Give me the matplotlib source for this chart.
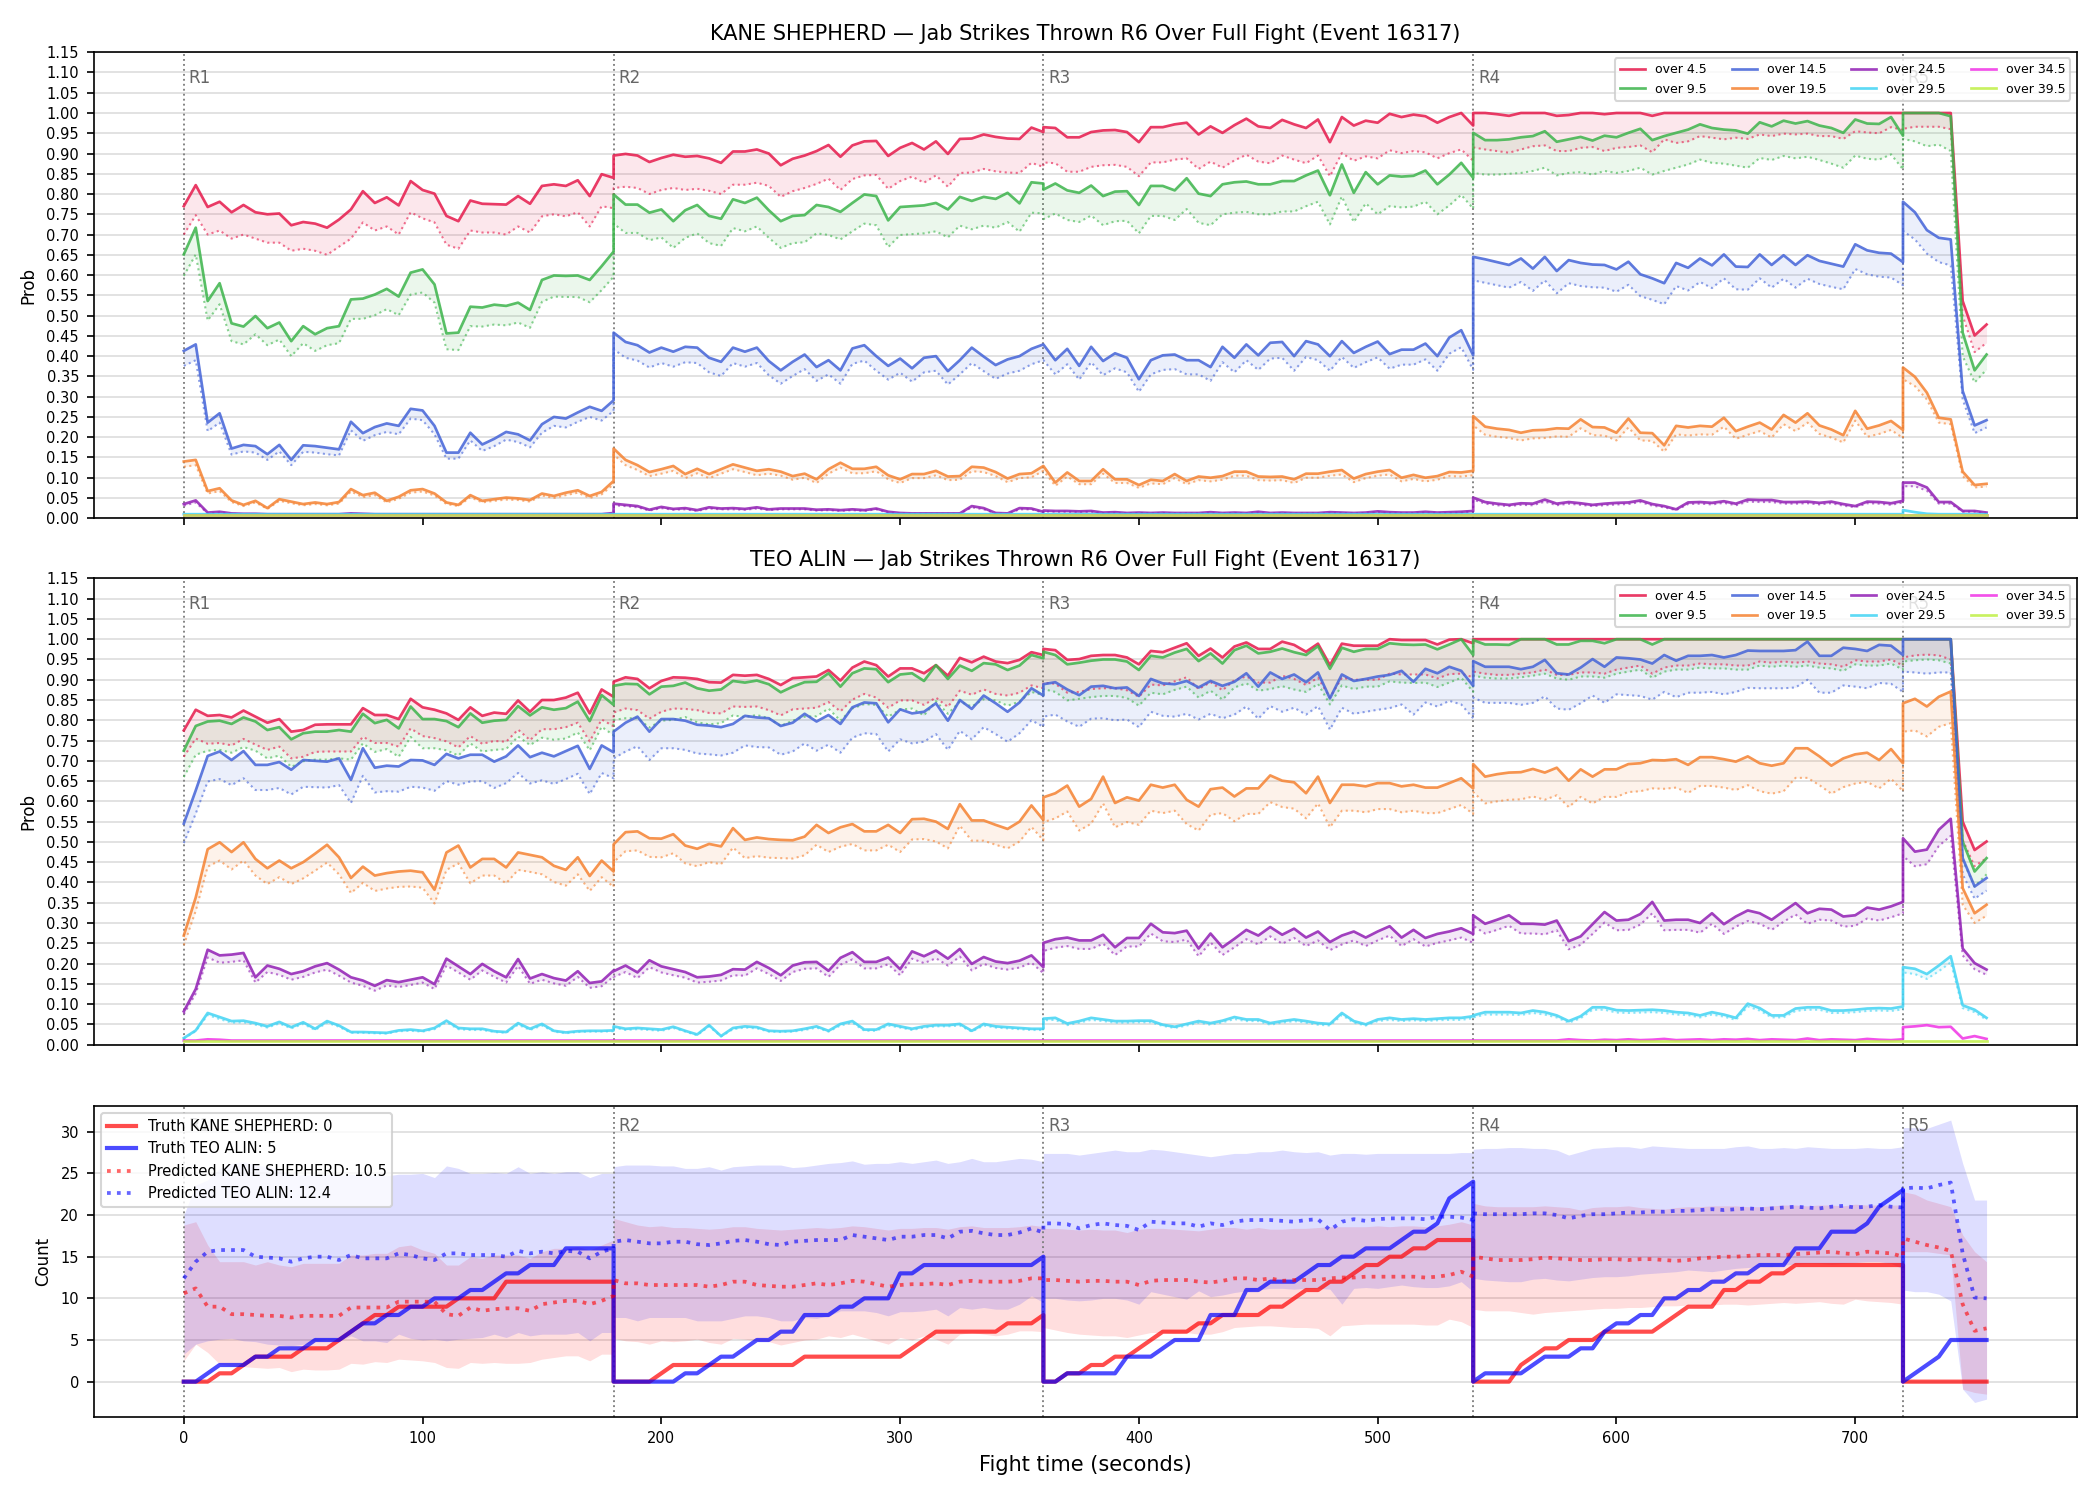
import numpy as np
import matplotlib.pyplot as plt

# time grid: 5 s samples, each round listed start..end (so round breaks show as vertical jumps)
round_starts = [0, 180, 360, 540, 720]
round_ends = [180, 360, 540, 720, 755]
t = np.concatenate([np.arange(s, e + 1, 5) for s, e in zip(round_starts, round_ends)])

labels = ["over 4.5", "over 9.5", "over 14.5", "over 19.5",
          "over 24.5", "over 29.5", "over 34.5", "over 39.5"]
line_colors = ['#e6194b', '#3cb44b', '#4363d8', '#f58231',
               '#911eb4', '#42d4f4', '#f032e6', '#bfef45']

# ---------------- KANE SHEPHERD (top panel) ----------------
kane_o45 = ([0.770,0.822,0.768,0.781,0.755,0.773,0.755,0.750,0.752,0.723,0.731,0.727,0.717,0.737,0.762,0.807,0.778,0.792,0.772,0.832,0.810,0.801,0.746,0.733,0.784,0.776,0.775,0.774,0.795,0.776,0.820,0.824,0.820,0.834,0.795,0.849,0.840]
          + [0.895,0.899,0.895,0.879,0.889,0.897,0.892,0.894,0.888,0.877,0.905,0.905,0.910,0.900,0.871,0.887,0.895,0.906,0.921,0.892,0.920,0.930,0.931,0.894,0.914,0.926,0.910,0.930,0.899,0.936,0.937,0.947,0.941,0.937,0.936,0.964,0.953]
          + [0.965,0.963,0.940,0.940,0.953,0.957,0.958,0.953,0.928,0.965,0.965,0.972,0.976,0.947,0.967,0.951,0.970,0.986,0.967,0.963,0.983,0.972,0.963,0.984,0.928,0.990,0.969,0.981,0.976,0.998,0.990,0.996,0.992,0.976,0.990,1.0,0.969]
          + [1.0,1.0,0.997,0.993,1.0,1.0,1.0,0.993,0.995,1.0,1.0,0.997,1.0,1.0,1.0,0.993] + [1.0] * 21
          + [1.0,1.0,1.0,1.0,1.0,0.536,0.451,0.478])
kane_o45_lo = ([0.700,0.748,0.700,0.710,0.690,0.700,0.690,0.680,0.680,0.660,0.665,0.660,0.650,0.670,0.690,0.730,0.710,0.720,0.700,0.755,0.740,0.730,0.675,0.665,0.710,0.705,0.705,0.700,0.720,0.705,0.745,0.750,0.745,0.755,0.720,0.770,0.765]
             + [0.815,0.818,0.815,0.800,0.810,0.815,0.810,0.813,0.808,0.800,0.823,0.823,0.828,0.820,0.793,0.807,0.815,0.825,0.838,0.810,0.837,0.846,0.847,0.813,0.832,0.843,0.828,0.846,0.818,0.852,0.853,0.862,0.856,0.853,0.852,0.877,0.867]
             + [0.878,0.876,0.855,0.855,0.867,0.871,0.872,0.867,0.844,0.878,0.878,0.885,0.888,0.862,0.880,0.865,0.883,0.897,0.880,0.876,0.895,0.885,0.876,0.895,0.844,0.901,0.882,0.893,0.888,0.908,0.901,0.906,0.903,0.888,0.901,0.910,0.882]
             + [0.915,0.910,0.906,0.902,0.910,0.918,0.920,0.906,0.906,0.914,0.916,0.906,0.914,0.916,0.920,0.903,0.935,0.926,0.930,0.943,0.939,0.935,0.939,0.936,0.947,0.943,0.949,0.947,0.949,0.943,0.943,0.936,0.955,0.952,0.950,0.965,0.958]
             + [0.961,0.966,0.966,0.966,0.960,0.500,0.410,0.433])

kane_o95 = ([0.651,0.717,0.536,0.580,0.481,0.473,0.499,0.469,0.483,0.437,0.474,0.454,0.469,0.474,0.540,0.542,0.552,0.566,0.547,0.606,0.614,0.577,0.456,0.458,0.522,0.520,0.527,0.524,0.532,0.514,0.588,0.599,0.598,0.599,0.588,0.622,0.658]
          + [0.799,0.774,0.774,0.754,0.762,0.733,0.760,0.773,0.746,0.739,0.787,0.778,0.791,0.760,0.733,0.746,0.748,0.773,0.768,0.756,0.778,0.799,0.795,0.735,0.768,0.770,0.772,0.778,0.762,0.793,0.783,0.793,0.788,0.803,0.777,0.829,0.826]
          + [0.811,0.826,0.809,0.803,0.821,0.795,0.806,0.807,0.773,0.820,0.820,0.809,0.839,0.801,0.795,0.824,0.829,0.831,0.824,0.824,0.832,0.832,0.846,0.858,0.797,0.873,0.803,0.854,0.824,0.846,0.843,0.845,0.858,0.824,0.848,0.877,0.840]
          + [0.951,0.933,0.933,0.935,0.940,0.943,0.955,0.929,0.935,0.941,0.932,0.944,0.940,0.951,0.961,0.933,0.943,0.951,0.959,0.972,0.963,0.959,0.957,0.949,0.977,0.967,0.981,0.974,0.980,0.969,0.963,0.951,0.984,0.974,0.973,0.990,0.944]
          + [1.0,1.0,1.0,1.0,0.992,0.458,0.365,0.404])
kane_o95_lo = ([0.598,0.651,0.488,0.528,0.437,0.429,0.454,0.427,0.441,0.400,0.432,0.413,0.427,0.432,0.492,0.492,0.501,0.516,0.501,0.552,0.557,0.532,0.417,0.415,0.474,0.473,0.478,0.476,0.483,0.470,0.534,0.547,0.546,0.546,0.533,0.563,0.596]
             + [0.727,0.704,0.704,0.686,0.693,0.667,0.692,0.703,0.679,0.672,0.716,0.708,0.720,0.692,0.667,0.679,0.681,0.703,0.699,0.688,0.708,0.727,0.723,0.669,0.699,0.701,0.703,0.708,0.693,0.722,0.713,0.722,0.717,0.731,0.707,0.754,0.752]
             + [0.738,0.752,0.736,0.731,0.747,0.723,0.733,0.734,0.703,0.746,0.746,0.736,0.763,0.729,0.723,0.750,0.754,0.756,0.750,0.750,0.757,0.757,0.770,0.781,0.725,0.794,0.731,0.777,0.750,0.770,0.767,0.769,0.781,0.750,0.772,0.798,0.764]
             + [0.852,0.848,0.848,0.850,0.852,0.857,0.865,0.846,0.852,0.854,0.848,0.857,0.852,0.857,0.865,0.848,0.857,0.865,0.873,0.885,0.877,0.875,0.870,0.865,0.889,0.884,0.894,0.888,0.892,0.884,0.875,0.865,0.895,0.887,0.885,0.898,0.861]
             + [0.936,0.930,0.918,0.922,0.906,0.400,0.335,0.367])

kane_o145 = ([0.413,0.429,0.236,0.259,0.172,0.181,0.178,0.158,0.181,0.144,0.180,0.178,0.174,0.170,0.238,0.210,0.225,0.234,0.228,0.270,0.266,0.228,0.162,0.162,0.211,0.182,0.196,0.213,0.207,0.192,0.232,0.250,0.246,0.261,0.275,0.265,0.291]
           + [0.458,0.435,0.427,0.409,0.421,0.411,0.423,0.421,0.396,0.386,0.421,0.411,0.421,0.388,0.365,0.386,0.404,0.373,0.390,0.365,0.419,0.427,0.400,0.376,0.394,0.370,0.396,0.400,0.363,0.390,0.421,0.399,0.378,0.392,0.400,0.418,0.429]
           + [0.429,0.390,0.418,0.376,0.423,0.388,0.407,0.396,0.343,0.390,0.402,0.404,0.390,0.390,0.373,0.423,0.396,0.429,0.402,0.433,0.435,0.400,0.437,0.429,0.400,0.437,0.408,0.423,0.436,0.405,0.416,0.416,0.431,0.400,0.446,0.464,0.402]
           + [0.645,0.639,0.632,0.625,0.641,0.616,0.645,0.610,0.637,0.630,0.626,0.625,0.614,0.633,0.602,0.592,0.580,0.630,0.618,0.641,0.624,0.651,0.621,0.620,0.651,0.625,0.649,0.625,0.649,0.635,0.628,0.621,0.676,0.661,0.655,0.653,0.632]
           + [0.781,0.755,0.711,0.692,0.688,0.314,0.229,0.242])
kane_o145_lo = ([0.376,0.390,0.215,0.236,0.157,0.165,0.162,0.144,0.165,0.131,0.164,0.162,0.158,0.155,0.217,0.191,0.205,0.213,0.207,0.246,0.242,0.207,0.147,0.147,0.192,0.166,0.178,0.194,0.188,0.175,0.211,0.228,0.224,0.238,0.250,0.241,0.265]
              + [0.417,0.396,0.389,0.372,0.383,0.374,0.385,0.383,0.360,0.351,0.383,0.374,0.383,0.353,0.332,0.351,0.368,0.339,0.355,0.332,0.381,0.389,0.364,0.342,0.359,0.337,0.360,0.364,0.330,0.355,0.383,0.363,0.344,0.357,0.364,0.380,0.390]
              + [0.390,0.355,0.380,0.342,0.385,0.353,0.370,0.360,0.312,0.355,0.366,0.368,0.355,0.355,0.339,0.385,0.360,0.390,0.366,0.394,0.396,0.364,0.398,0.390,0.364,0.398,0.371,0.385,0.397,0.369,0.379,0.379,0.392,0.364,0.406,0.422,0.366]
              + [0.587,0.581,0.575,0.569,0.583,0.561,0.587,0.555,0.580,0.573,0.570,0.569,0.559,0.576,0.548,0.539,0.528,0.573,0.562,0.583,0.568,0.592,0.565,0.564,0.592,0.569,0.591,0.569,0.591,0.578,0.571,0.565,0.615,0.602,0.596,0.594,0.575]
              + [0.709,0.688,0.653,0.632,0.624,0.293,0.210,0.224])

kane_o195 = ([0.140,0.144,0.067,0.074,0.044,0.033,0.043,0.025,0.047,0.041,0.035,0.039,0.035,0.040,0.072,0.057,0.063,0.043,0.053,0.069,0.072,0.061,0.039,0.033,0.057,0.043,0.047,0.051,0.049,0.045,0.061,0.055,0.063,0.069,0.055,0.065,0.092]
           + [0.172,0.144,0.131,0.114,0.121,0.129,0.109,0.122,0.109,0.121,0.133,0.125,0.117,0.121,0.115,0.104,0.110,0.096,0.121,0.137,0.122,0.122,0.127,0.106,0.096,0.109,0.109,0.117,0.103,0.104,0.127,0.125,0.114,0.098,0.109,0.111,0.129]
           + [0.129,0.088,0.113,0.092,0.092,0.121,0.096,0.096,0.082,0.095,0.092,0.109,0.092,0.103,0.100,0.104,0.115,0.115,0.103,0.102,0.103,0.096,0.110,0.110,0.115,0.119,0.098,0.109,0.115,0.119,0.100,0.107,0.100,0.104,0.114,0.113,0.117]
           + [0.252,0.226,0.221,0.218,0.211,0.217,0.218,0.222,0.221,0.244,0.225,0.224,0.211,0.246,0.211,0.210,0.180,0.228,0.224,0.228,0.226,0.248,0.215,0.226,0.236,0.219,0.255,0.236,0.259,0.229,0.219,0.205,0.265,0.221,0.229,0.240,0.218]
           + [0.372,0.349,0.310,0.248,0.244,0.115,0.082,0.085])
kane_o195_lo = ([0.127,0.131,0.061,0.067,0.040,0.030,0.039,0.023,0.043,0.037,0.032,0.035,0.032,0.036,0.066,0.052,0.057,0.039,0.048,0.063,0.066,0.056,0.035,0.030,0.052,0.039,0.043,0.046,0.045,0.041,0.056,0.050,0.057,0.063,0.050,0.059,0.084]
              + [0.157,0.131,0.119,0.104,0.110,0.117,0.099,0.111,0.099,0.110,0.121,0.114,0.106,0.110,0.105,0.095,0.100,0.087,0.110,0.125,0.111,0.111,0.116,0.096,0.087,0.099,0.099,0.106,0.094,0.095,0.116,0.114,0.104,0.089,0.099,0.101,0.117]
              + [0.117,0.080,0.103,0.084,0.084,0.110,0.087,0.087,0.075,0.086,0.084,0.099,0.084,0.094,0.091,0.095,0.105,0.105,0.094,0.093,0.094,0.087,0.100,0.100,0.105,0.108,0.089,0.099,0.105,0.108,0.091,0.097,0.091,0.095,0.104,0.103,0.106]
              + [0.229,0.206,0.201,0.198,0.192,0.197,0.198,0.202,0.201,0.222,0.205,0.204,0.192,0.224,0.192,0.191,0.164,0.207,0.204,0.207,0.206,0.226,0.196,0.206,0.215,0.199,0.232,0.215,0.236,0.208,0.199,0.187,0.241,0.201,0.208,0.218,0.198]
              + [0.343,0.326,0.293,0.236,0.232,0.104,0.076,0.078])

kane_o245 = ([0.035,0.044,0.014,0.016,0.012,0.011,0.011,0.010,0.010,0.010,0.010,0.010,0.010,0.010,0.012,0.011,0.010,0.010,0.010,0.010,0.010,0.010,0.010,0.010,0.010,0.010,0.010,0.010,0.010,0.010,0.010,0.010,0.010,0.010,0.010,0.010,0.013]
           + [0.036,0.033,0.030,0.021,0.028,0.023,0.025,0.020,0.027,0.024,0.025,0.023,0.027,0.022,0.024,0.024,0.024,0.021,0.022,0.020,0.022,0.020,0.024,0.016,0.013,0.012,0.012,0.012,0.012,0.012,0.030,0.025,0.013,0.012,0.025,0.024,0.016]
           + [0.019,0.018,0.018,0.017,0.018,0.014,0.015,0.013,0.014,0.013,0.014,0.013,0.013,0.013,0.015,0.013,0.014,0.013,0.016,0.013,0.014,0.013,0.013,0.013,0.015,0.014,0.013,0.014,0.017,0.015,0.014,0.014,0.016,0.014,0.015,0.016,0.018]
           + [0.051,0.040,0.036,0.033,0.037,0.036,0.046,0.036,0.040,0.037,0.033,0.036,0.038,0.039,0.044,0.035,0.030,0.022,0.039,0.040,0.038,0.042,0.036,0.046,0.045,0.045,0.040,0.040,0.041,0.038,0.041,0.035,0.030,0.041,0.040,0.037,0.043]
           + [0.088,0.088,0.076,0.040,0.040,0.018,0.018,0.014])
kane_o245_lo = ([0.031,0.039,0.012,0.014,0.011,0.010,0.010,0.009,0.009,0.009,0.009,0.009,0.009,0.009,0.011,0.010,0.009,0.009,0.009,0.009,0.009,0.009,0.009,0.009,0.009,0.009,0.009,0.009,0.009,0.009,0.009,0.009,0.009,0.009,0.009,0.009,0.012]
              + [0.032,0.030,0.027,0.019,0.025,0.021,0.022,0.018,0.024,0.022,0.022,0.021,0.024,0.020,0.022,0.022,0.022,0.019,0.020,0.018,0.020,0.018,0.022,0.014,0.012,0.011,0.011,0.011,0.011,0.011,0.027,0.022,0.012,0.011,0.022,0.022,0.014]
              + [0.017,0.016,0.016,0.015,0.016,0.013,0.013,0.012,0.013,0.012,0.013,0.012,0.012,0.012,0.013,0.012,0.013,0.012,0.014,0.012,0.013,0.012,0.012,0.012,0.013,0.013,0.012,0.013,0.015,0.013,0.013,0.013,0.014,0.013,0.013,0.014,0.016]
              + [0.046,0.036,0.032,0.030,0.033,0.032,0.041,0.032,0.036,0.033,0.030,0.032,0.034,0.035,0.040,0.031,0.027,0.020,0.035,0.036,0.034,0.038,0.032,0.041,0.040,0.040,0.036,0.036,0.037,0.034,0.037,0.031,0.027,0.037,0.036,0.033,0.039]
              + [0.079,0.079,0.068,0.036,0.036,0.016,0.016,0.013])

kane_o295 = [0.010] * 148 + [0.020,0.015,0.011,0.010,0.010,0.010,0.010,0.010]
kane_o345 = [0.008] * 156
kane_o395 = [0.009] * 156

# ---------------- TEO ALIN (middle panel) ----------------
teo_o45 = ([0.775,0.826,0.811,0.813,0.807,0.824,0.809,0.794,0.803,0.772,0.776,0.789,0.790,0.790,0.790,0.830,0.813,0.813,0.803,0.853,0.832,0.826,0.817,0.801,0.832,0.811,0.819,0.816,0.849,0.821,0.850,0.850,0.856,0.868,0.817,0.876,0.858]
         + [0.895,0.906,0.902,0.879,0.897,0.906,0.905,0.902,0.894,0.893,0.912,0.910,0.912,0.902,0.887,0.904,0.906,0.908,0.924,0.898,0.930,0.945,0.936,0.908,0.928,0.928,0.916,0.936,0.910,0.954,0.943,0.957,0.945,0.941,0.949,0.968,0.961]
         + [0.976,0.973,0.949,0.951,0.959,0.961,0.961,0.955,0.938,0.971,0.968,0.979,0.990,0.959,0.977,0.955,0.982,0.992,0.976,0.976,0.994,0.986,0.969,0.989,0.936,0.989,0.984,0.984,0.984,1.0,0.998,0.998,0.998,0.987,0.999,1.0,0.990]
         + [1.0] * 37
         + [1.0,1.0,1.0,1.0,1.0,0.550,0.480,0.501])
teo_o45_lo = ([0.710,0.755,0.742,0.744,0.738,0.754,0.740,0.727,0.735,0.706,0.710,0.722,0.723,0.723,0.723,0.759,0.744,0.744,0.735,0.780,0.761,0.756,0.748,0.733,0.761,0.742,0.749,0.747,0.777,0.751,0.778,0.778,0.783,0.794,0.748,0.802,0.785]
            + [0.819,0.829,0.825,0.804,0.821,0.829,0.828,0.825,0.818,0.817,0.834,0.833,0.834,0.825,0.812,0.827,0.829,0.831,0.845,0.822,0.851,0.865,0.856,0.831,0.849,0.849,0.838,0.856,0.833,0.873,0.863,0.876,0.865,0.861,0.868,0.886,0.879]
            + [0.893,0.890,0.868,0.870,0.877,0.879,0.879,0.874,0.858,0.888,0.886,0.896,0.906,0.877,0.894,0.874,0.899,0.908,0.893,0.893,0.910,0.902,0.887,0.905,0.856,0.905,0.900,0.900,0.900,0.915,0.913,0.913,0.913,0.903,0.914,0.915,0.906]
            + [0.920,0.915,0.912,0.912,0.915,0.918,0.925,0.912,0.912,0.918,0.918,0.915,0.925,0.930,0.935,0.915,0.930,0.935,0.935,0.940,0.938,0.938,0.935,0.935,0.945,0.942,0.945,0.942,0.945,0.940,0.938,0.932,0.948,0.945,0.945,0.950,0.935]
            + [0.955,0.960,0.962,0.960,0.950,0.505,0.440,0.460])

teo_o95 = ([0.725,0.786,0.797,0.799,0.791,0.807,0.797,0.776,0.783,0.753,0.768,0.772,0.772,0.776,0.772,0.816,0.793,0.801,0.780,0.834,0.803,0.803,0.798,0.783,0.817,0.794,0.799,0.801,0.835,0.812,0.832,0.826,0.830,0.846,0.798,0.862,0.838]
         + [0.885,0.890,0.889,0.864,0.883,0.885,0.893,0.879,0.873,0.876,0.897,0.893,0.898,0.889,0.869,0.883,0.894,0.895,0.916,0.883,0.916,0.928,0.926,0.894,0.913,0.916,0.897,0.936,0.902,0.935,0.922,0.941,0.938,0.924,0.935,0.961,0.953]
         + [0.969,0.961,0.938,0.942,0.947,0.950,0.950,0.945,0.924,0.959,0.955,0.967,0.976,0.946,0.965,0.940,0.973,0.984,0.965,0.969,0.977,0.968,0.961,0.983,0.927,0.979,0.969,0.976,0.976,0.990,0.987,0.986,0.987,0.975,0.987,1.0,0.961]
         + [0.998,0.987,0.987,0.986,1.0,1.0,1.0,0.987,0.987,0.996,0.996,0.990,1.0,1.0,1.0,0.987] + [1.0] * 21
         + [1.0,1.0,1.0,1.0,1.0,0.501,0.427,0.460])
teo_o95_lo = ([0.660,0.715,0.725,0.727,0.720,0.734,0.725,0.706,0.713,0.685,0.699,0.703,0.703,0.706,0.703,0.743,0.722,0.729,0.710,0.759,0.731,0.731,0.726,0.713,0.743,0.723,0.727,0.729,0.760,0.739,0.757,0.752,0.755,0.770,0.726,0.784,0.763]
            + [0.801,0.805,0.805,0.782,0.799,0.801,0.808,0.795,0.790,0.793,0.812,0.808,0.813,0.805,0.786,0.799,0.809,0.810,0.829,0.799,0.829,0.840,0.838,0.809,0.826,0.829,0.812,0.847,0.816,0.846,0.834,0.852,0.849,0.836,0.846,0.870,0.862]
            + [0.877,0.870,0.849,0.853,0.857,0.860,0.860,0.855,0.836,0.868,0.864,0.875,0.883,0.856,0.873,0.851,0.881,0.891,0.873,0.877,0.884,0.876,0.870,0.890,0.839,0.886,0.877,0.883,0.883,0.896,0.893,0.892,0.893,0.882,0.893,0.905,0.870]
            + [0.910,0.905,0.903,0.903,0.906,0.910,0.915,0.903,0.900,0.908,0.908,0.905,0.915,0.920,0.925,0.905,0.920,0.925,0.925,0.930,0.928,0.928,0.925,0.925,0.935,0.932,0.935,0.932,0.935,0.930,0.928,0.922,0.938,0.935,0.935,0.940,0.925]
            + [0.945,0.948,0.950,0.948,0.940,0.455,0.390,0.420])

teo_o145 = ([0.545,0.627,0.712,0.723,0.702,0.724,0.690,0.690,0.697,0.678,0.702,0.700,0.698,0.706,0.653,0.731,0.683,0.688,0.686,0.702,0.701,0.690,0.717,0.706,0.715,0.715,0.698,0.711,0.738,0.709,0.720,0.711,0.724,0.737,0.680,0.738,0.721]
          + [0.772,0.794,0.809,0.772,0.803,0.803,0.799,0.789,0.787,0.783,0.791,0.811,0.807,0.805,0.786,0.794,0.816,0.797,0.813,0.791,0.832,0.844,0.842,0.795,0.827,0.817,0.821,0.842,0.799,0.850,0.828,0.861,0.842,0.821,0.844,0.879,0.861]
          + [0.889,0.894,0.876,0.862,0.883,0.885,0.879,0.881,0.860,0.902,0.891,0.889,0.897,0.881,0.897,0.885,0.895,0.916,0.883,0.918,0.902,0.913,0.894,0.918,0.854,0.913,0.897,0.902,0.908,0.912,0.922,0.895,0.927,0.916,0.932,0.922,0.885]
          + [0.946,0.932,0.932,0.932,0.926,0.932,0.949,0.916,0.913,0.930,0.951,0.932,0.955,0.953,0.950,0.940,0.961,0.947,0.959,0.959,0.961,0.955,0.961,0.972,0.971,0.971,0.971,0.973,0.994,0.959,0.959,0.979,0.976,0.971,0.986,0.984,0.961]
          + [1.0,1.0,1.0,1.0,1.0,0.460,0.390,0.411])
teo_o145_lo = ([0.497,0.570,0.649,0.655,0.640,0.657,0.628,0.628,0.633,0.617,0.636,0.635,0.634,0.640,0.596,0.663,0.622,0.625,0.624,0.636,0.634,0.626,0.650,0.641,0.649,0.650,0.633,0.645,0.670,0.644,0.652,0.643,0.655,0.668,0.618,0.670,0.657]
             + [0.706,0.723,0.736,0.702,0.731,0.731,0.727,0.718,0.716,0.713,0.720,0.738,0.734,0.733,0.715,0.723,0.743,0.725,0.740,0.720,0.757,0.768,0.766,0.723,0.753,0.743,0.747,0.766,0.727,0.774,0.753,0.783,0.766,0.747,0.768,0.800,0.784]
             + [0.809,0.814,0.797,0.784,0.804,0.805,0.800,0.802,0.783,0.821,0.811,0.809,0.816,0.802,0.816,0.805,0.814,0.834,0.804,0.835,0.821,0.831,0.814,0.835,0.777,0.831,0.816,0.821,0.826,0.830,0.839,0.814,0.844,0.834,0.848,0.839,0.805]
             + [0.856,0.843,0.843,0.843,0.838,0.843,0.859,0.829,0.826,0.842,0.861,0.843,0.864,0.862,0.860,0.851,0.870,0.857,0.868,0.868,0.870,0.864,0.870,0.880,0.879,0.879,0.879,0.881,0.900,0.868,0.868,0.886,0.883,0.879,0.892,0.890,0.870]
             + [0.920,0.918,0.915,0.918,0.918,0.420,0.360,0.380])

teo_o195 = ([0.269,0.363,0.482,0.499,0.475,0.499,0.458,0.435,0.454,0.435,0.450,0.471,0.493,0.462,0.411,0.439,0.417,0.423,0.427,0.429,0.425,0.382,0.474,0.491,0.437,0.458,0.458,0.437,0.474,0.468,0.462,0.441,0.431,0.462,0.416,0.454,0.427]
          + [0.494,0.524,0.526,0.509,0.508,0.519,0.491,0.483,0.495,0.489,0.534,0.505,0.511,0.507,0.505,0.504,0.513,0.542,0.522,0.536,0.544,0.526,0.526,0.542,0.522,0.556,0.557,0.550,0.532,0.593,0.553,0.553,0.542,0.532,0.550,0.590,0.554]
          + [0.610,0.620,0.639,0.587,0.606,0.661,0.596,0.610,0.602,0.641,0.634,0.641,0.604,0.587,0.630,0.634,0.612,0.632,0.632,0.664,0.651,0.647,0.620,0.661,0.596,0.641,0.641,0.637,0.645,0.645,0.637,0.641,0.634,0.634,0.645,0.657,0.632]
          + [0.692,0.661,0.667,0.671,0.672,0.680,0.671,0.683,0.651,0.679,0.661,0.679,0.679,0.692,0.694,0.702,0.701,0.704,0.690,0.709,0.709,0.704,0.698,0.711,0.694,0.688,0.694,0.731,0.731,0.711,0.688,0.706,0.716,0.720,0.702,0.729,0.694]
          + [0.842,0.853,0.834,0.858,0.871,0.386,0.324,0.345])
teo_o195_lo = ([0.245,0.330,0.439,0.454,0.432,0.454,0.417,0.396,0.413,0.396,0.410,0.429,0.449,0.420,0.374,0.399,0.379,0.385,0.389,0.390,0.387,0.348,0.431,0.447,0.398,0.417,0.417,0.398,0.431,0.426,0.420,0.401,0.392,0.420,0.379,0.413,0.389]
             + [0.450,0.477,0.479,0.463,0.462,0.472,0.447,0.440,0.450,0.445,0.486,0.460,0.465,0.461,0.460,0.459,0.467,0.493,0.475,0.488,0.495,0.479,0.479,0.493,0.475,0.506,0.507,0.501,0.484,0.540,0.503,0.503,0.493,0.484,0.501,0.537,0.504]
             + [0.549,0.558,0.575,0.528,0.545,0.595,0.536,0.549,0.542,0.577,0.571,0.577,0.544,0.528,0.567,0.571,0.551,0.569,0.569,0.598,0.586,0.582,0.558,0.595,0.536,0.577,0.577,0.573,0.581,0.581,0.573,0.577,0.571,0.571,0.581,0.591,0.569]
             + [0.623,0.595,0.600,0.604,0.605,0.612,0.604,0.615,0.586,0.611,0.595,0.611,0.611,0.623,0.625,0.632,0.631,0.634,0.621,0.638,0.638,0.634,0.628,0.640,0.625,0.619,0.625,0.658,0.658,0.640,0.619,0.635,0.644,0.648,0.632,0.656,0.625]
             + [0.772,0.775,0.760,0.784,0.793,0.345,0.300,0.318])

teo_o245 = ([0.082,0.137,0.234,0.220,0.222,0.226,0.166,0.195,0.187,0.174,0.181,0.193,0.201,0.185,0.166,0.158,0.145,0.159,0.154,0.160,0.166,0.149,0.212,0.193,0.174,0.199,0.181,0.166,0.211,0.163,0.174,0.164,0.158,0.181,0.152,0.156,0.183]
          + [0.181,0.195,0.178,0.208,0.193,0.186,0.179,0.166,0.168,0.172,0.186,0.185,0.204,0.189,0.171,0.195,0.203,0.204,0.182,0.214,0.228,0.204,0.204,0.215,0.186,0.230,0.218,0.232,0.212,0.236,0.199,0.216,0.205,0.201,0.207,0.220,0.191]
          + [0.251,0.260,0.264,0.257,0.257,0.271,0.240,0.263,0.263,0.298,0.277,0.275,0.281,0.237,0.274,0.240,0.261,0.283,0.269,0.290,0.271,0.286,0.264,0.279,0.253,0.269,0.279,0.264,0.279,0.292,0.264,0.283,0.263,0.273,0.279,0.287,0.273]
          + [0.319,0.298,0.308,0.319,0.298,0.298,0.296,0.306,0.255,0.267,0.297,0.327,0.306,0.308,0.322,0.352,0.306,0.308,0.308,0.300,0.324,0.297,0.316,0.331,0.324,0.308,0.329,0.349,0.324,0.335,0.333,0.316,0.319,0.338,0.333,0.341,0.352]
          + [0.509,0.476,0.481,0.530,0.557,0.237,0.201,0.185])
teo_o245_lo = ([0.075,0.126,0.215,0.202,0.204,0.208,0.153,0.179,0.172,0.160,0.167,0.178,0.185,0.170,0.153,0.145,0.133,0.146,0.142,0.147,0.153,0.137,0.195,0.178,0.160,0.183,0.167,0.153,0.194,0.150,0.160,0.151,0.145,0.167,0.140,0.144,0.168]
             + [0.167,0.179,0.164,0.191,0.178,0.171,0.165,0.153,0.155,0.158,0.171,0.170,0.188,0.174,0.157,0.179,0.187,0.188,0.167,0.197,0.210,0.188,0.188,0.198,0.171,0.212,0.201,0.213,0.195,0.217,0.183,0.199,0.189,0.185,0.190,0.202,0.176]
             + [0.231,0.239,0.243,0.236,0.236,0.249,0.221,0.242,0.242,0.274,0.255,0.253,0.259,0.218,0.252,0.221,0.240,0.260,0.247,0.267,0.249,0.263,0.243,0.257,0.233,0.247,0.257,0.243,0.257,0.269,0.243,0.260,0.242,0.251,0.257,0.264,0.251]
             + [0.293,0.274,0.283,0.293,0.274,0.274,0.272,0.282,0.235,0.246,0.273,0.301,0.282,0.283,0.296,0.324,0.282,0.283,0.283,0.276,0.298,0.273,0.291,0.305,0.298,0.283,0.303,0.321,0.298,0.308,0.306,0.291,0.293,0.311,0.306,0.314,0.324]
             + [0.465,0.440,0.445,0.490,0.515,0.220,0.186,0.172])

teo_o295 = ([0.016,0.035,0.078,0.068,0.058,0.059,0.053,0.045,0.056,0.043,0.055,0.039,0.058,0.047,0.031,0.031,0.030,0.029,0.035,0.037,0.034,0.041,0.059,0.041,0.039,0.039,0.033,0.031,0.053,0.039,0.051,0.034,0.030,0.033,0.034,0.034,0.035]
          + [0.045,0.039,0.041,0.039,0.037,0.044,0.034,0.025,0.048,0.021,0.041,0.045,0.043,0.034,0.033,0.034,0.039,0.045,0.034,0.051,0.058,0.037,0.037,0.051,0.045,0.039,0.045,0.048,0.048,0.051,0.034,0.051,0.045,0.043,0.041,0.039,0.039]
          + [0.064,0.066,0.052,0.058,0.066,0.062,0.058,0.058,0.059,0.059,0.049,0.044,0.051,0.058,0.053,0.059,0.068,0.062,0.062,0.053,0.058,0.062,0.058,0.053,0.051,0.078,0.058,0.050,0.062,0.066,0.062,0.064,0.062,0.064,0.066,0.066,0.070]
          + [0.072,0.080,0.080,0.080,0.078,0.084,0.080,0.072,0.058,0.070,0.092,0.092,0.085,0.084,0.085,0.086,0.084,0.080,0.078,0.072,0.080,0.074,0.066,0.101,0.090,0.072,0.072,0.089,0.092,0.092,0.084,0.084,0.086,0.089,0.090,0.089,0.094]
          + [0.191,0.187,0.174,0.195,0.218,0.097,0.086,0.066])
teo_o295_lo = ([0.015,0.033,0.073,0.063,0.054,0.055,0.049,0.042,0.052,0.040,0.051,0.036,0.054,0.044,0.029,0.029,0.028,0.027,0.033,0.034,0.032,0.038,0.055,0.038,0.036,0.036,0.031,0.029,0.049,0.036,0.047,0.032,0.028,0.031,0.032,0.032,0.033]
             + [0.042,0.036,0.038,0.036,0.034,0.041,0.032,0.023,0.045,0.020,0.038,0.042,0.040,0.032,0.031,0.032,0.036,0.042,0.032,0.047,0.054,0.034,0.034,0.047,0.042,0.036,0.042,0.045,0.045,0.047,0.032,0.047,0.042,0.040,0.038,0.036,0.036]
             + [0.060,0.061,0.048,0.054,0.061,0.058,0.054,0.054,0.055,0.055,0.046,0.041,0.047,0.054,0.049,0.055,0.063,0.058,0.058,0.049,0.054,0.058,0.054,0.049,0.047,0.073,0.054,0.047,0.058,0.061,0.058,0.060,0.058,0.060,0.061,0.061,0.065]
             + [0.067,0.074,0.074,0.074,0.073,0.078,0.074,0.067,0.054,0.065,0.086,0.086,0.079,0.078,0.079,0.080,0.078,0.074,0.073,0.067,0.074,0.069,0.061,0.094,0.084,0.067,0.067,0.083,0.086,0.086,0.078,0.078,0.080,0.083,0.084,0.083,0.087]
             + [0.178,0.174,0.162,0.181,0.203,0.090,0.080,0.061])

teo_o345 = ([0.010,0.010,0.013,0.012] + [0.010] * 33 + [0.010] * 37 + [0.010] * 37
          + [0.010] * 8 + [0.013,0.011,0.010,0.012,0.011,0.013,0.011,0.012,0.014,0.011,0.012,0.013,0.011,0.013,0.012,0.014,0.011,0.013,0.012,0.011,0.015,0.011,0.013,0.012,0.011,0.014,0.012,0.011,0.013]
          + [0.043,0.045,0.048,0.043,0.044,0.015,0.021,0.014])
teo_o395 = [0.009] * 156

# ---------------- count panel ----------------
kane_truth = ([0,0,0,1,1,2,3,3,3,3,4,4,4,5,6,7,8,8,9,9,9,9,9,10,10,10,10,12,12,12,12,12,12,12,12,12,12]
            + [0,0,0,0,1,2,2,2,2,2,2,2,2,2,2,2,3,3,3,3,3,3,3,3,3,4,5,6,6,6,6,6,6,7,7,7,8]
            + [0,0,1,1,2,2,3,3,4,5,6,6,6,7,7,8,8,8,8,9,9,10,11,11,12,12,13,14,14,15,15,16,16,17,17,17,17]
            + [0,0,0,0,2,3,4,4,5,5,5,6,6,6,6,6,7,8,9,9,9,11,11,12,12,13,13,14,14,14,14,14,14,14,14,14,14]
            + [0,0,0,0,0,0,0,0])
teo_truth = ([0,0,1,2,2,2,3,3,4,4,4,5,5,5,6,7,7,8,8,9,9,10,10,10,11,11,12,13,13,14,14,14,16,16,16,16,16]
           + [0,0,0,0,0,0,1,1,2,3,3,4,5,5,6,6,8,8,8,9,9,10,10,10,13,13,14,14,14,14,14,14,14,14,14,14,15]
           + [0,0,1,1,1,1,1,3,3,3,4,5,5,5,8,8,8,11,11,12,12,12,13,14,14,15,15,16,16,16,17,18,18,19,22,23,24]
           + [0,1,1,1,1,2,3,3,3,4,4,6,7,7,8,8,10,10,11,11,12,12,13,13,14,14,14,16,16,16,18,18,18,19,21,22,23]
           + [0,1,2,3,5,5,5,5])

kane_pred = ([10.6,11.2,9.0,9.0,8.1,8.1,8.0,7.9,7.9,7.7,7.9,7.9,7.9,7.9,8.9,8.9,8.9,8.9,9.6,9.6,9.6,9.6,8.1,7.9,8.9,8.5,8.7,8.8,8.8,8.5,9.3,9.5,9.7,9.7,9.3,9.7,10.3]
           + [12.2,11.8,11.8,11.6,11.6,11.6,11.6,11.6,11.4,11.6,12.0,12.0,11.6,11.5,11.4,11.4,11.6,11.8,11.6,11.8,12.1,12.0,11.7,11.4,11.6,11.7,11.7,11.8,11.6,12.0,12.1,12.0,12.0,12.0,12.1,12.4,12.4]
           + [12.2,12.2,12.1,12.0,12.1,12.1,12.0,12.0,11.6,12.1,12.2,12.2,12.2,12.0,11.9,12.1,12.4,12.4,12.2,12.4,12.1,12.2,12.2,12.2,12.4,12.5,12.5,12.6,12.6,12.6,12.6,12.6,12.5,12.6,12.8,13.2,12.6]
           + [15.0,14.8,14.6,14.6,14.6,14.7,14.9,14.8,14.7,14.6,14.6,14.7,14.7,14.6,14.7,14.7,14.6,14.5,14.6,14.8,14.9,15.0,15.0,15.1,15.2,15.2,15.2,15.3,15.4,15.5,15.6,15.4,15.3,15.6,15.5,15.4,15.0]
           + [17.2,16.8,16.4,16.1,15.7,9.3,6.1,6.4])
kane_hi = ([18.8,19.2,16.4,14.4,14.4,14.4,14.0,14.4,14.0,13.8,14.2,14.2,14.2,14.2,15.2,15.2,15.4,15.4,16.2,16.4,15.8,15.4,14.0,14.0,15.0,14.8,15.2,15.2,15.2,14.8,15.6,16.0,16.0,16.2,15.8,16.4,17.0]
         + [19.6,19.2,18.8,18.6,18.7,18.5,18.5,18.4,18.3,18.4,18.6,18.6,18.4,18.3,18.2,18.3,18.4,18.5,18.4,18.5,18.7,18.6,18.4,18.2,18.4,18.4,18.5,18.5,18.3,18.6,18.7,18.5,18.5,18.5,18.6,18.8,18.6]
         + [18.4,18.4,18.3,18.2,18.3,18.2,18.2,17.9,18.3,18.4,18.4,18.3,18.2,18.1,18.3,18.5,18.5,18.3,18.5,18.3,18.3,18.4,18.4,18.5,18.6,18.6,18.6,18.6,18.7,18.6,18.7,18.7,18.6,18.7,18.9,19.2,18.8]
         + [21.4,21.1,21.0,21.0,21.0,21.0,21.1,21.0,20.9,20.6,20.9,21.0,21.0,21.1,20.9,20.8,20.7,20.9,21.0,21.0,21.1,21.1,21.1,21.0,21.0,21.1,21.2,21.2,21.1,21.2,21.2,21.1,21.3,21.2,21.2,21.2,21.2]
         + [22.8,22.5,21.8,21.4,21.0,17.6,15.6,14.4])
kane_lo = ([2.5,4.5,3.5,2.1,1.9,1.8,1.7,1.6,1.7,1.2,1.5,1.4,1.4,1.5,2.2,2.1,2.4,2.3,2.7,2.6,2.5,2.3,1.7,1.6,2.3,2.2,2.3,2.2,2.2,2.3,2.7,2.9,3.1,3.1,2.5,3.3,3.3]
         + [5.2,4.9,4.8,4.5,4.9,4.8,4.9,5.1,4.7,4.5,5.2,5.1,4.9,4.8,4.4,4.7,5.0,5.1,5.5,5.3,5.7,5.3,4.9,4.5,5.3,5.0,5.5,5.1,4.5,5.7,5.9,5.7,5.5,5.7,6.1,6.1,6.0]
         + [6.5,6.2,5.9,5.7,5.6,5.5,5.5,5.3,5.6,5.9,5.9,5.8,5.9,5.7,5.7,6.0,6.5,6.6,6.7,6.7,6.6,6.5,6.5,6.4,5.5,6.7,6.8,6.9,6.9,6.9,6.9,6.9,6.8,6.8,7.5,7.2,6.5]
         + [8.7,8.5,8.5,8.5,8.3,8.1,8.3,8.4,8.5,8.6,8.7,8.8,8.8,8.9,8.9,9.0,9.1,9.1,9.2,9.2,9.2,9.3,9.3,9.2,9.3,9.4,9.5,9.4,9.5,9.6,9.4,9.3,9.9,9.7,9.6,9.5,9.3]
         + [15.6,15.6,15.6,15.4,15.2,-0.9,-1.3,-1.5])

teo_pred = ([12.4,14.4,15.6,15.8,15.8,15.8,15.0,14.9,14.8,14.4,14.8,15.0,15.0,14.6,15.2,14.8,14.8,14.8,15.4,15.2,14.8,14.6,15.4,15.4,15.2,15.2,15.2,15.0,15.7,15.4,15.6,15.4,15.7,15.6,14.8,15.6,16.0]
          + [16.8,17.0,16.8,16.6,16.6,16.8,16.8,16.5,16.4,16.6,16.9,17.0,16.8,16.5,16.4,16.8,16.9,17.0,17.0,17.0,17.6,17.4,17.2,17.0,17.4,17.4,17.6,17.6,17.2,18.0,18.1,17.8,17.6,17.6,17.9,18.4,17.9]
          + [19.0,19.0,18.9,18.4,18.8,19.0,18.8,18.7,18.2,19.2,19.1,19.0,19.0,18.6,19.0,18.8,19.2,19.4,19.4,19.4,19.3,19.2,19.4,19.5,18.2,19.2,19.5,19.3,19.5,19.6,19.6,19.6,19.5,19.8,19.8,19.7,19.4]
          + [20.2,20.1,20.1,20.1,20.1,20.2,20.2,20.0,19.6,19.9,20.1,20.1,20.2,20.3,20.3,20.4,20.4,20.5,20.5,20.6,20.7,20.6,20.7,20.8,20.7,20.8,20.9,21.0,20.9,20.8,21.0,21.1,20.9,21.0,21.2,21.0,20.9]
          + [23.2,23.3,23.2,23.6,23.9,15.4,10.1,10.0])
teo_hi = ([20.0,23.6,24.2,25.6,26.2,26.4,26.0,25.8,25.4,24.8,24.8,24.8,24.9,24.7,24.9,24.7,24.8,24.7,24.9,24.9,25.0,24.5,25.9,25.6,25.0,25.0,25.1,25.0,25.8,25.0,25.2,25.0,25.2,25.2,24.5,25.0,25.0]
        + [25.8,26.0,26.0,26.0,25.9,25.9,25.6,25.6,25.8,25.4,25.8,25.9,26.0,26.0,26.0,25.7,25.8,26.0,26.2,26.3,26.5,26.1,26.2,26.2,26.4,26.2,26.4,26.6,26.2,26.4,26.8,26.4,26.4,26.6,26.8,26.7,26.4]
        + [27.4,27.4,27.4,27.2,27.4,27.6,27.8,27.6,27.6,27.9,27.8,27.6,27.4,27.2,27.0,27.2,27.4,27.4,27.6,27.6,27.8,27.6,27.5,27.6,27.2,27.4,27.4,27.3,27.4,27.4,27.4,27.4,27.4,27.4,27.4,27.5,27.5]
        + [27.9,28.0,28.0,28.1,28.1,28.0,28.0,27.8,27.2,27.6,28.0,28.1,28.2,28.2,28.0,28.3,28.2,28.1,28.0,28.0,28.0,28.0,28.2,28.3,28.0,28.0,28.1,28.0,28.2,28.1,28.0,28.0,28.0,28.1,28.0,28.0,28.2]
        + [30.5,30.5,30.4,30.9,31.4,26.2,21.8,21.8])
teo_lo = ([3.3,4.5,4.9,5.1,5.2,4.9,4.8,4.5,4.4,4.3,4.5,4.9,5.1,4.9,5.5,4.9,4.9,4.7,5.7,5.2,5.0,5.1,4.9,5.1,5.2,5.3,5.7,5.3,5.9,5.5,5.7,5.7,5.7,5.9,4.9,5.9,5.9]
        + [7.7,7.7,7.3,7.7,7.7,7.7,7.7,7.3,7.3,7.3,7.6,7.9,7.9,7.7,7.3,7.3,7.7,7.6,7.9,8.5,8.5,8.5,8.3,7.9,8.4,8.4,8.5,8.7,7.9,8.9,8.7,8.9,8.7,8.7,9.3,10.3,9.5]
        + [10.0,10.0,9.8,9.7,9.8,10.0,10.0,9.8,9.3,10.8,10.5,10.2,9.9,10.9,10.2,10.4,10.7,10.9,11.0,11.2,11.2,11.1,11.2,11.2,11.1,9.3,11.2,11.3,11.2,11.4,11.6,11.4,11.3,11.3,11.5,12.0,10.8]
        + [12.4,12.2,12.1,12.0,12.0,12.3,12.4,12.2,12.1,12.3,12.5,12.6,12.6,12.7,12.9,13.0,13.1,13.2,13.4,13.3,13.2,13.4,13.6,13.7,13.8,13.8,14.0,14.1,14.2,14.2,14.1,14.2,14.3,14.4,14.4,14.2,13.5]
        + [11.0,10.8,10.8,10.5,9.7,-0.9,-2.5,-2.1])

kane_name = "KANE SHEPHERD"
teo_name = "TEO ALIN"
kane_final, teo_final = 0, 5
kane_pred_final, teo_pred_final = 10.5, 12.4


def prob_panel(ax, solids, lows, title):
    for lab, c, y, ylo in zip(labels, line_colors, solids, lows):
        ax.plot(t, y, color=c, lw=1.3, alpha=0.85, label=lab, zorder=3)
        if ylo is not None:
            ax.plot(t, ylo, color=c, lw=1.0, ls=':', alpha=0.6, zorder=3)
            ax.fill_between(t, ylo, y, color=c, alpha=0.1, lw=0, zorder=2)
    ax.set_ylim(0, 1.15)
    ax.set_yticks(np.arange(0, 1.151, 0.05))
    ax.yaxis.set_major_formatter(plt.FormatStrFormatter('%.2f'))
    ax.set_ylabel("Prob", fontsize=8)
    ax.set_title(title, fontsize=10)
    ax.legend(loc='upper right', ncol=4, fontsize=6, framealpha=0.8)


def round_marks(ax):
    for i, s in enumerate(round_starts):
        ax.axvline(s, color='gray', ls=':', lw=0.9, zorder=1)
        ax.text(s + 2, 0.965, f"R{i + 1}", transform=ax.get_xaxis_transform(),
                va='top', ha='left', fontsize=8, color='#666666', zorder=1)


fig = plt.figure(figsize=(14, 10), dpi=150)
ax1 = fig.add_axes([0.0446, 0.6545, 0.9443, 0.3107])
ax2 = fig.add_axes([0.0446, 0.3036, 0.9443, 0.3108], sharex=ax1)
ax3 = fig.add_axes([0.0446, 0.0556, 0.9443, 0.2071], sharex=ax1)

prob_panel(ax1,
           [kane_o45, kane_o95, kane_o145, kane_o195, kane_o245, kane_o295, kane_o345, kane_o395],
           [kane_o45_lo, kane_o95_lo, kane_o145_lo, kane_o195_lo, kane_o245_lo, None, None, None],
           f"{kane_name} — Jab Strikes Thrown R6 Over Full Fight (Event 16317)")
prob_panel(ax2,
           [teo_o45, teo_o95, teo_o145, teo_o195, teo_o245, teo_o295, teo_o345, teo_o395],
           [teo_o45_lo, teo_o95_lo, teo_o145_lo, teo_o195_lo, teo_o245_lo, teo_o295_lo, None, None],
           f"{teo_name} — Jab Strikes Thrown R6 Over Full Fight (Event 16317)")

# count panel
ax3.fill_between(t, kane_lo, kane_hi, color='red', alpha=0.13, lw=0)
ax3.fill_between(t, teo_lo, teo_hi, color='blue', alpha=0.13, lw=0)
ax3.plot(t, kane_truth, color='red', lw=2, alpha=0.7, label=f"Truth {kane_name}: {kane_final}")
ax3.plot(t, teo_truth, color='blue', lw=2, alpha=0.7, label=f"Truth {teo_name}: {teo_final}")
ax3.plot(t, kane_pred, color='red', lw=1.8, ls=':', alpha=0.6,
         label=f"Predicted {kane_name}: {kane_pred_final}")
ax3.plot(t, teo_pred, color='blue', lw=1.8, ls=':', alpha=0.6,
         label=f"Predicted {teo_name}: {teo_pred_final}")
ax3.set_ylabel("Count", fontsize=8)
ax3.set_xlabel("Fight time (seconds)", fontsize=10)
ax3.legend(loc='upper left', fontsize=7, framealpha=0.8)

for ax in (ax1, ax2, ax3):
    round_marks(ax)
    ax.grid(axis='y', color='#dddddd', lw=0.8)
    ax.set_axisbelow(True)
    ax.tick_params(labelsize=7)
for ax in (ax1, ax2):
    ax.tick_params(labelbottom=False)

fig.savefig("out.png", dpi=150)
